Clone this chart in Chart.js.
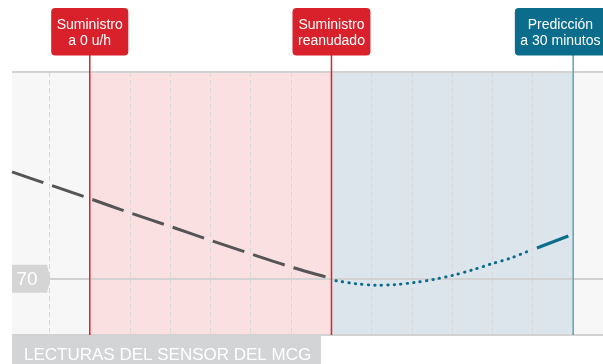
<!DOCTYPE html>
<html>
<head>
<meta charset="utf-8">
<script src="https://cdn.jsdelivr.net/npm/chart.js@4.4.0/dist/chart.umd.min.js"></script>
<style>
  html, body { margin: 0; padding: 0; background: #fff; }
  #wrap { width: 603px; height: 364px; }
</style>
</head>
<body>
<div id="wrap"><canvas id="mcgChart" width="603" height="364"></canvas></div>
<script>
// Sensor readings (minutes relative to suspension, mg/dL)
const sensorMinutes = [-9.65, -5, 0, 5, 10, 15, 20, 25, 30];
const sensorValues = [98.4, 95.0, 91.3, 87.5, 83.9, 80.2, 76.6, 73.1, 70.0];

// Predicted trace after delivery resumes
const predMinutes = [30.55, 33.0, 35.5, 37.9, 40.35, 42.7, 45.1, 47.45, 49.8, 52.15, 54.3];
const predValues = [69.45, 68.65, 68.25, 68.4, 69.0, 69.8, 70.9, 72.3, 73.9, 75.4, 77.2];
const predEndMinutes = [55.5, 59.4];
const predEndValues = [78.15, 81.35];

// Axis setup
const xMin = -9.65;
const xMax = 63.7;
const gridMinutes = [-5, 0, 5, 10, 15, 20, 25, 30, 35, 40, 45, 50, 55, 60];
const yMin = 55;
const yMax = 125;
const yLines = [55, 70, 125];
const thresholdValue = 70;

// Event markers
const markerMinutes = [0, 30, 60];
const markerLabels = [['Suministro', 'a 0 u/h'], ['Suministro', 'reanudado'], ['Predicción', 'a 30 minutos']];
const footerLabel = 'LECTURAS DEL SENSOR DEL MCG';

const FONT = '"Liberation Sans", Arial, Helvetica, sans-serif';
const markerBox = ['#d8212b', '#d8212b', '#0b6d8b'];
const markerLine = ['#d9232d', '#d9232d', '#5ea3bb'];

function toPoints(xs, ys) {
    return xs.map((x, i) => ({ x: x, y: ys[i] }));
}

const backdropPlugin = {
    id: 'backdrop',
    beforeDraw(chart) {
        const { ctx, chartArea: a, scales: { x } } = chart;
        ctx.save();
        ctx.fillStyle = '#f7f7f7';
        ctx.fillRect(a.left, a.top, a.right - a.left, a.bottom - a.top);
        const x0 = x.getPixelForValue(markerMinutes[0]);
        const x1 = x.getPixelForValue(markerMinutes[1]);
        const x2 = x.getPixelForValue(markerMinutes[2]);
        ctx.fillStyle = '#fbe0e1';
        ctx.fillRect(x0, a.top, x1 - x0, a.bottom - a.top);
        ctx.fillStyle = '#dce5eb';
        ctx.fillRect(x1, a.top, x2 - x1, a.bottom - a.top);
        ctx.restore();
    },
    beforeDatasetsDraw(chart) {
        const { ctx, chartArea: a, scales: { x } } = chart;
        ctx.save();
        ctx.lineWidth = 1.5;
        markerMinutes.forEach((m, i) => {
            const px = x.getPixelForValue(m);
            ctx.strokeStyle = markerLine[i];
            ctx.beginPath();
            ctx.moveTo(px, 54);
            ctx.lineTo(px, a.bottom);
            ctx.stroke();
        });
        ctx.restore();
    },
    afterDraw(chart) {
        const { ctx, chartArea: a, scales: { x, y } } = chart;
        ctx.save();

        // marker boxes
        ctx.font = '14px ' + FONT;
        ctx.textAlign = 'center';
        ctx.textBaseline = 'alphabetic';
        markerMinutes.forEach((m, i) => {
            const px = x.getPixelForValue(m);
            const lines = markerLabels[i];
            const w = Math.max(...lines.map(t => ctx.measureText(t).width)) + 11;
            let left = px - w / 2;
            if (left + w > chart.width + 3) left = chart.width + 3 - w;
            ctx.fillStyle = markerBox[i];
            ctx.beginPath();
            ctx.roundRect(left, 8, w, 47.5, 4);
            ctx.fill();
            ctx.fillStyle = '#ffffff';
            lines.forEach((t, j) => ctx.fillText(t, left + w / 2, 29 + j * 15.7));
        });

        // threshold tag
        const ty = y.getPixelForValue(thresholdValue);
        ctx.fillStyle = '#d5d5d5';
        ctx.beginPath();
        ctx.moveTo(a.left, ty - 14);
        ctx.lineTo(a.left + 35, ty - 14);
        ctx.lineTo(a.left + 38.5, ty);
        ctx.lineTo(a.left + 35, ty + 14);
        ctx.lineTo(a.left, ty + 14);
        ctx.closePath();
        ctx.fill();
        ctx.fillStyle = '#ffffff';
        ctx.font = '19px ' + FONT;
        ctx.textAlign = 'left';
        ctx.textBaseline = 'middle';
        ctx.fillText(String(thresholdValue), a.left + 4.5, ty + 1);

        // footer label
        ctx.fillStyle = '#d3d4d6';
        ctx.fillRect(a.left, a.bottom + 1, 309, chart.height - a.bottom - 1);
        ctx.fillStyle = '#ffffff';
        ctx.font = '17px ' + FONT;
        ctx.textBaseline = 'alphabetic';
        ctx.fillText(footerLabel, a.left + 12, 359.5);
        ctx.restore();
    }
};

const ctx = document.getElementById('mcgChart').getContext('2d');
new Chart(ctx, {
    type: 'line',
    data: {
        datasets: [
            {
                data: toPoints(sensorMinutes, sensorValues),
                borderColor: '#555555',
                borderWidth: 3,
                borderDash: [33, 9.5],
                tension: 0.3,
                pointRadius: 0,
                fill: false
            },
            {
                data: toPoints(predMinutes, predValues),
                borderColor: '#0b6d8b',
                borderWidth: 2.9,
                borderDash: [0.5, 6.0],
                borderCapStyle: 'round',
                tension: 0.3,
                pointRadius: 0,
                fill: false
            },
            {
                data: toPoints(predEndMinutes, predEndValues),
                borderColor: '#0b6d8b',
                borderWidth: 3,
                pointRadius: 0,
                fill: false
            }
        ]
    },
    options: {
        responsive: false,
        animation: false,
        clip: false,
        layout: { padding: { top: 72, left: 12, right: 0, bottom: 29 } },
        plugins: {
            legend: { display: false },
            tooltip: { enabled: false }
        },
        scales: {
            x: {
                type: 'linear',
                min: xMin,
                max: xMax,
                afterBuildTicks: scale => { scale.ticks = gridMinutes.map(v => ({ value: v })); },
                ticks: { display: false },
                grid: { color: '#d9d9d9', lineWidth: 1, drawTicks: false },
                border: { display: false, dash: [5, 3] }
            },
            y: {
                min: yMin,
                max: yMax,
                afterBuildTicks: scale => { scale.ticks = yLines.map(v => ({ value: v })); },
                ticks: { display: false },
                grid: { color: '#d2d2d2', lineWidth: 2, drawTicks: false },
                border: { display: false }
            }
        }
    },
    plugins: [backdropPlugin]
});
</script>
</body>
</html>
